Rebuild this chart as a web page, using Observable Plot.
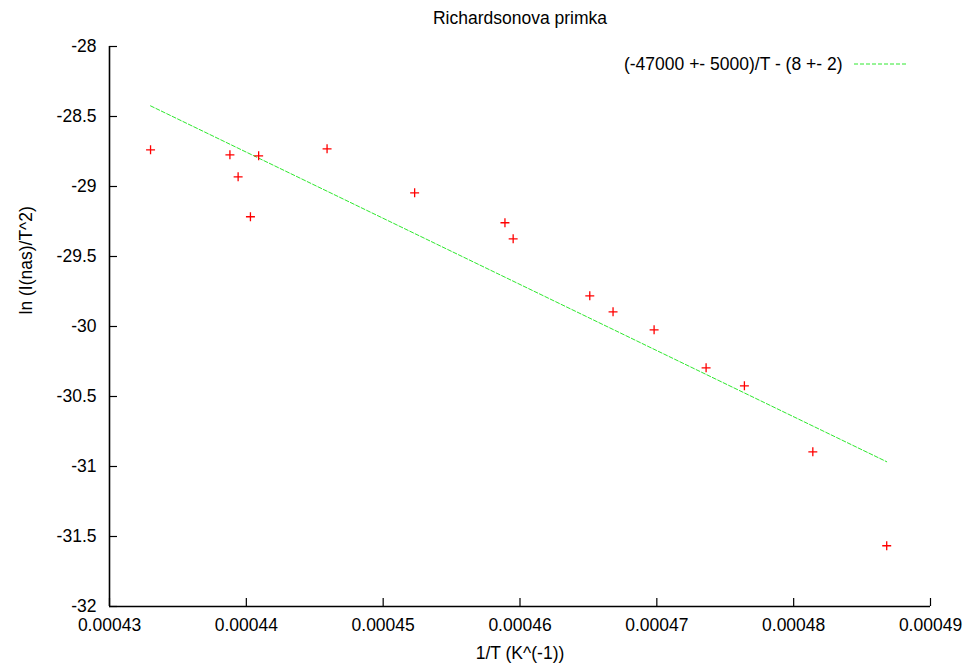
<!DOCTYPE html>
<html>
<head>
<meta charset="utf-8">
<script src="https://cdn.jsdelivr.net/npm/d3@7"></script>
<script src="https://cdn.jsdelivr.net/npm/@observablehq/plot@0.6"></script>
<style>
  html, body { margin: 0; padding: 0; background: #fff; }
  svg { display: block; }
</style>
</head>
<body>
<div id="chart"></div>
<script>
const invT = [0.000433, 0.0004388, 0.0004394, 0.0004403, 0.0004409, 0.0004459, 0.0004523, 0.0004589, 0.0004595, 0.0004651, 0.0004668, 0.0004698, 0.0004736, 0.0004764, 0.0004814, 0.0004868];
const lnI = [-28.738, -28.774, -28.931, -29.216, -28.781, -28.731, -29.045, -29.259, -29.374, -29.781, -29.895, -30.024, -30.295, -30.424, -30.895, -31.566];
const fitX = [0.000433, 0.0004868];
const fitY = [-28.424, -30.966];
const xTicks = [0.00043, 0.00044, 0.00045, 0.00046, 0.00047, 0.00048, 0.00049];
const xTickLabels = ["0.00043", "0.00044", "0.00045", "0.00046", "0.00047", "0.00048", "0.00049"];
const yTicks = [-28, -28.5, -29, -29.5, -30, -30.5, -31, -31.5, -32];
const yTickLabels = ["-28", "-28.5", "-29", "-29.5", "-30", "-30.5", "-31", "-31.5", "-32"];
const title = "Richardsonova primka";
const xLabel = "1/T (K^(-1))";
const yLabel = "ln (I(nas)/T^2)";
const legendLabel = "(-47000 +- 5000)/T - (8 +- 2)";

const points = invT.map((x, i) => ({x, y: lnI[i]}));
const fit = fitX.map((x, i) => ({x, y: fitY[i]}));

const font = "'Liberation Sans', Arial, Helvetica, sans-serif";
const fs = 17.5;
const green = "#2ee82e";

const chart = Plot.plot({
  width: 968,
  height: 666,
  marginLeft: 109,
  marginRight: 38,
  marginTop: 46,
  marginBottom: 60,
  style: {fontFamily: font, fontSize: fs + "px", color: "#000", background: "#fff"},
  x: {domain: [0.00043, 0.00049]},
  y: {domain: [-32, -28]},
  marks: [
    Plot.ruleX([0.00043], {stroke: "#000", strokeWidth: 1.6}),
    Plot.ruleY([-32], {stroke: "#000", strokeWidth: 1.6}),
    Plot.axisX({ticks: xTicks, tickFormat: (d, i) => xTickLabels[i], tickSize: -8, tickPadding: 20, label: null, stroke: "#000", strokeWidth: 1.2, fill: "#000", fontSize: fs}),
    Plot.axisY({ticks: yTicks, tickFormat: (d, i) => yTickLabels[i], tickSize: -8, tickPadding: 21, label: null, stroke: "#000", strokeWidth: 1.2, fill: "#000", fontSize: fs}),
    Plot.line(fit, {x: "x", y: "y", stroke: green, strokeWidth: 1, strokeDasharray: "4,2"}),
    Plot.dot(points, {x: "x", y: "y", symbol: "plus", r: 3.0, stroke: "#ff0000", strokeWidth: 1.3}),
    Plot.text([title], {frameAnchor: "top", dy: -28, lineAnchor: "middle", fontSize: fs, fill: "#000"}),
    Plot.text([xLabel], {frameAnchor: "bottom", dy: 47, lineAnchor: "middle", fontSize: fs, fill: "#000"}),
    Plot.text([yLabel], {frameAnchor: "left", dx: -83, dy: -12, rotate: -90, lineAnchor: "middle", fontSize: fs, fill: "#000"}),
    Plot.text([legendLabel], {frameAnchor: "top-right", dx: -88, dy: 18, textAnchor: "end", lineAnchor: "middle", fontSize: fs, fill: "#000"})
  ]
});

// legend swatch
const svg = d3.select(chart);
svg.append("line")
  .attr("x1", 854).attr("x2", 908)
  .attr("y1", 64).attr("y2", 64)
  .attr("stroke", green).attr("stroke-width", 1).attr("stroke-dasharray", "4,2");

document.getElementById("chart").appendChild(chart);
</script>
</body>
</html>
